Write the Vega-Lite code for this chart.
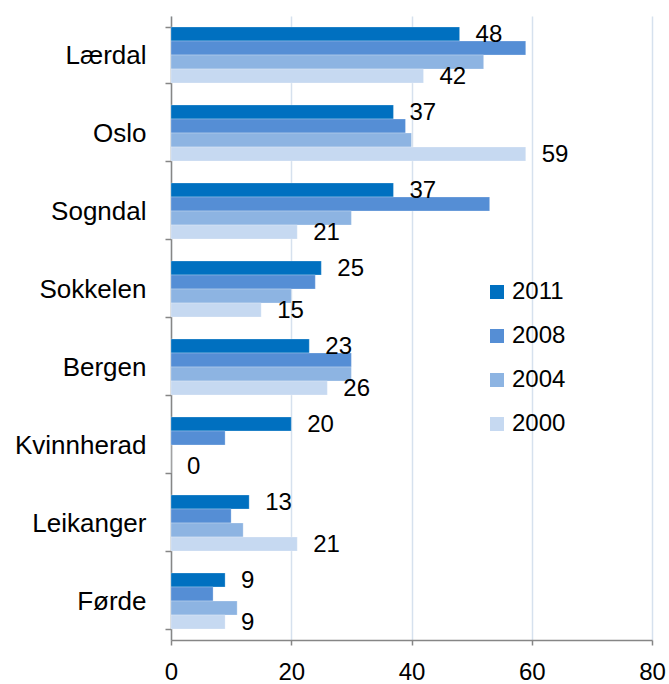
{
  "$schema": "https://vega.github.io/schema/vega-lite/v6.json",
  "autosize": "none",
  "width": 481,
  "height": 624,
  "padding": {"left": 171, "top": 16, "right": 17, "bottom": 44},
  "background": "white",
  "config": {
    "font": "Liberation Sans",
    "view": {"stroke": null}
  },
  "data": {
    "values": [
      {"place": "Lærdal", "year": "2011", "value": 48},
      {"place": "Lærdal", "year": "2008", "value": 59},
      {"place": "Lærdal", "year": "2004", "value": 52},
      {"place": "Lærdal", "year": "2000", "value": 42},
      {"place": "Oslo", "year": "2011", "value": 37},
      {"place": "Oslo", "year": "2008", "value": 39},
      {"place": "Oslo", "year": "2004", "value": 40},
      {"place": "Oslo", "year": "2000", "value": 59},
      {"place": "Sogndal", "year": "2011", "value": 37},
      {"place": "Sogndal", "year": "2008", "value": 53},
      {"place": "Sogndal", "year": "2004", "value": 30},
      {"place": "Sogndal", "year": "2000", "value": 21},
      {"place": "Sokkelen", "year": "2011", "value": 25},
      {"place": "Sokkelen", "year": "2008", "value": 24},
      {"place": "Sokkelen", "year": "2004", "value": 20},
      {"place": "Sokkelen", "year": "2000", "value": 15},
      {"place": "Bergen", "year": "2011", "value": 23},
      {"place": "Bergen", "year": "2008", "value": 30},
      {"place": "Bergen", "year": "2004", "value": 30},
      {"place": "Bergen", "year": "2000", "value": 26},
      {"place": "Kvinnherad", "year": "2011", "value": 20},
      {"place": "Kvinnherad", "year": "2008", "value": 9},
      {"place": "Kvinnherad", "year": "2004", "value": 0},
      {"place": "Kvinnherad", "year": "2000", "value": 0},
      {"place": "Leikanger", "year": "2011", "value": 13},
      {"place": "Leikanger", "year": "2008", "value": 10},
      {"place": "Leikanger", "year": "2004", "value": 12},
      {"place": "Leikanger", "year": "2000", "value": 21},
      {"place": "Førde", "year": "2011", "value": 9},
      {"place": "Førde", "year": "2008", "value": 7},
      {"place": "Førde", "year": "2004", "value": 11},
      {"place": "Førde", "year": "2000", "value": 9}
    ]
  },
  "encoding": {
    "y": {
      "field": "place",
      "type": "nominal",
      "sort": ["Lærdal", "Oslo", "Sogndal", "Sokkelen", "Bergen", "Kvinnherad", "Leikanger", "Førde"],
      "scale": {"paddingInner": 0.282, "paddingOuter": 0.141},
      "axis": {
        "title": null,
        "tickBand": "extent",
        "domainColor": "#868686",
        "domainWidth": 1.5,
        "tickColor": "#868686",
        "tickWidth": 1.5,
        "tickSize": 6,
        "labelFontSize": 26,
        "labelColor": "#000000",
        "labelPadding": 19,
        "labelLimit": 200,
        "grid": false
      }
    },
    "yOffset": {
      "field": "year",
      "type": "nominal",
      "sort": ["2011", "2008", "2004", "2000"],
      "scale": {"paddingInner": 0, "paddingOuter": 0}
    },
    "x": {
      "field": "value",
      "type": "quantitative",
      "scale": {"domain": [0, 80], "nice": false},
      "axis": {
        "title": null,
        "values": [0, 20, 40, 60, 80],
        "grid": true,
        "gridColor": "#D6E1EE",
        "gridWidth": 1.5,
        "domainColor": "#868686",
        "domainWidth": 1.5,
        "tickColor": "#868686",
        "tickWidth": 1.5,
        "tickSize": 5,
        "labelFontSize": 24,
        "labelColor": "#000000",
        "labelPadding": 15,
        "labelFlush": false
      }
    }
  },
  "layer": [
    {
      "mark": {"type": "bar", "stroke": "white", "strokeWidth": 0.5, "strokeOpacity": 0.5},
      "encoding": {
        "color": {
          "field": "year",
          "type": "nominal",
          "scale": {
            "domain": ["2011", "2008", "2004", "2000"],
            "range": ["#0070C0", "#558ED5", "#8DB4E2", "#C6D9F1"]
          },
          "legend": {
            "title": null,
            "orient": "none",
            "legendX": 314,
            "legendY": 264,
            "symbolType": "square",
            "symbolSize": 196,
            "symbolStrokeWidth": 0,
            "labelFontSize": 24,
            "labelColor": "#000000",
            "labelOffset": 3,
            "rowPadding": 20
          }
        }
      }
    },
    {
      "transform": [{"filter": "datum.year === '2011' || datum.year === '2000'"}],
      "mark": {"type": "text", "align": "left", "baseline": "middle", "dx": 16, "dy": 1, "fontSize": 24, "color": "#000000"},
      "encoding": {
        "text": {"field": "value", "type": "quantitative"}
      }
    }
  ]
}
